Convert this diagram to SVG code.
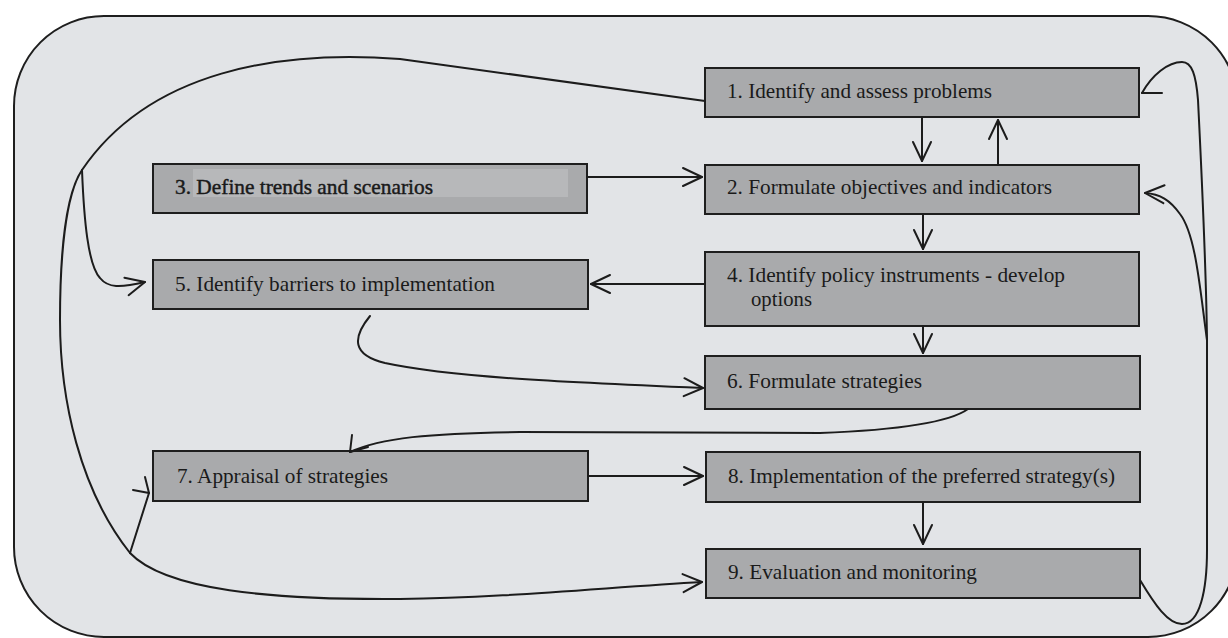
<svg xmlns="http://www.w3.org/2000/svg" width="1228" height="638" viewBox="0 0 1228 638">
  <style>
    .frame { fill: #e2e4e7; stroke: #1e1e1e; stroke-width: 2; }
    .box { fill: #a9aaac; stroke: #1e1e1e; stroke-width: 2; }
    .label { font-family: "Liberation Serif", "Times New Roman", serif; font-size: 22px; fill: #1a1a1a; }
    .small { font-size: 20px; }
    .heavy { stroke: #1a1a1a; stroke-width: 0.45; }
    .wire { fill: none; stroke: #1c1c1c; stroke-width: 2; stroke-linecap: round; stroke-linejoin: round; }
  </style>
  <defs>
    <marker id="arrow" markerUnits="userSpaceOnUse" markerWidth="30" markerHeight="30" viewBox="-25 -15 30 30" refX="0" refY="0" orient="auto" overflow="visible">
      <path d="M-19,-9 L0,0 L-19,9" fill="none" stroke="#1c1c1c" stroke-width="2" stroke-linecap="round" stroke-linejoin="round"/>
    </marker>
  </defs>

  <rect width="1228" height="638" fill="#ffffff"/>
  <rect class="frame" x="14" y="16" width="1224" height="621" rx="90" ry="90"/>

  <g id="node-1">
    <rect class="box" x="705" y="68" width="434" height="49"/>
    <text class="label" x="727" y="98" textLength="265" lengthAdjust="spacingAndGlyphs">1. Identify and assess problems</text>
  </g>
  <g id="node-2">
    <rect class="box" x="705" y="165" width="434" height="49"/>
    <text class="label" x="727" y="194" textLength="325" lengthAdjust="spacingAndGlyphs">2. Formulate objectives and indicators</text>
  </g>
  <g id="node-3">
    <rect class="box" x="153" y="164" width="434" height="49"/>
    <rect x="193" y="169" width="375" height="28" fill="#b7b8ba"/>
    <text class="label heavy" x="175" y="194" textLength="258" lengthAdjust="spacingAndGlyphs">3. Define trends and scenarios</text>
  </g>
  <g id="node-4">
    <rect class="box" x="705" y="252" width="434" height="74"/>
    <text class="label small" x="727" y="282" textLength="338" lengthAdjust="spacingAndGlyphs">4. Identify policy instruments - develop</text>
    <text class="label small" x="751" y="306" textLength="61" lengthAdjust="spacingAndGlyphs">options</text>
  </g>
  <g id="node-5">
    <rect class="box" x="153" y="260" width="435" height="49"/>
    <text class="label" x="175" y="291" textLength="320" lengthAdjust="spacingAndGlyphs">5. Identify barriers to implementation</text>
  </g>
  <g id="node-6">
    <rect class="box" x="705" y="356" width="435" height="53"/>
    <text class="label" x="727" y="388" textLength="195" lengthAdjust="spacingAndGlyphs">6. Formulate strategies</text>
  </g>
  <g id="node-7">
    <rect class="box" x="153" y="451" width="435" height="50"/>
    <text class="label" x="177" y="483" textLength="211" lengthAdjust="spacingAndGlyphs">7. Appraisal of strategies</text>
  </g>
  <g id="node-8">
    <rect class="box" x="706" y="452" width="434" height="50"/>
    <text class="label" x="728" y="483" textLength="387" lengthAdjust="spacingAndGlyphs">8. Implementation of the preferred strategy(s)</text>
  </g>
  <g id="node-9">
    <rect class="box" x="706" y="549" width="434" height="49"/>
    <text class="label" x="728" y="579" textLength="249" lengthAdjust="spacingAndGlyphs">9. Evaluation and monitoring</text>
  </g>

  <g id="connectors">
    <!-- vertical links in the right column -->
    <path class="wire" d="M922,117 L922,161" marker-end="url(#arrow)"/>
    <path class="wire" d="M998,165 L998,120" marker-end="url(#arrow)"/>
    <path class="wire" d="M923,214 L923,249" marker-end="url(#arrow)"/>
    <path class="wire" d="M923,326 L923,353" marker-end="url(#arrow)"/>
    <path class="wire" d="M923,502 L923,544" marker-end="url(#arrow)"/>

    <!-- horizontal links -->
    <path class="wire" d="M587,177 L702,177" marker-end="url(#arrow)"/>
    <path class="wire" d="M705,284 L591,284" marker-end="url(#arrow)"/>
    <path class="wire" d="M588,476 L703,476" marker-end="url(#arrow)"/>

    <!-- 5 to 6 -->
    <path class="wire" d="M370,316 C352,338 352,355 385,363 C450,377 560,382 703,388" marker-end="url(#arrow)"/>

    <!-- 6 to 7 -->
    <path class="wire" d="M968,409 C950,422 900,430 820,433 L520,432 C430,433 380,438 350,452"/>
    <path class="wire" d="M352,435 L350,452 L368,447"/>

    <!-- feedback loop from 1 around the left side to 9 -->
    <path class="wire" d="M705,101 L400,59 C280,50 150,70 82,170 C65,195 60,260 60,320 C60,400 80,490 130,553 C165,590 270,600 400,599 C500,598 600,588 702,582" marker-end="url(#arrow)"/>
    <!-- branch to 5 -->
    <path class="wire" d="M82,170 C84,220 88,265 100,278 C108,288 120,288 145,282" marker-end="url(#arrow)"/>
    <!-- branch to 7 -->
    <path class="wire" d="M130,553 L149,493"/>
    <path class="wire" d="M133,490 L149,493 L145,477"/>

    <!-- feedback loop from 9 up the right side to 1 -->
    <path class="wire" d="M1140,580 C1155,605 1168,624 1182,624 C1200,624 1207,590 1207,550 L1207,340 C1206,260 1200,140 1198,100 C1196,75 1192,62 1182,62 C1168,62 1152,75 1142,93"/>
    <path class="wire" d="M1142,93 L1162,93"/>
    <!-- branch to 2 -->
    <path class="wire" d="M1207,340 C1200,290 1196,235 1180,214 C1170,200 1160,194 1145,193" marker-end="url(#arrow)"/>
  </g>
</svg>
